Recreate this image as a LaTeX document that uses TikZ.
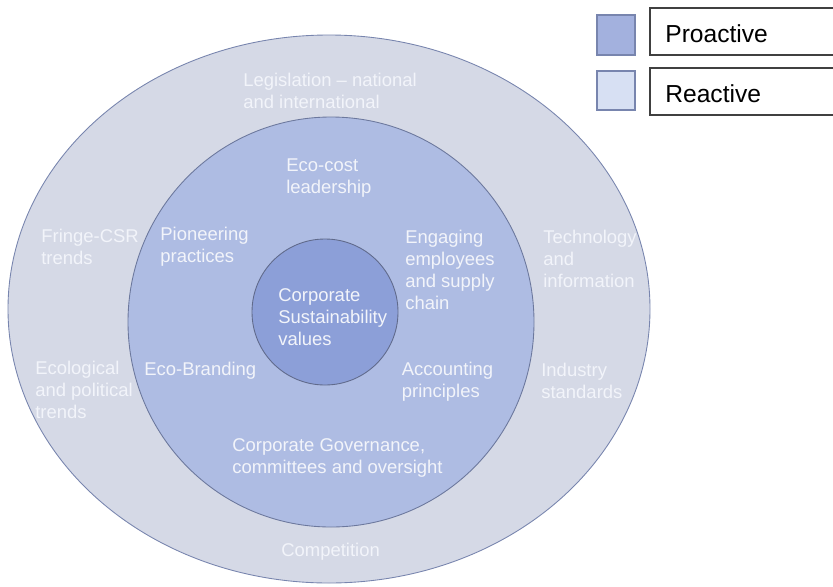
\documentclass[tikz,border=0pt]{standalone}
\usepackage{fontspec}
\setmainfont{Liberation Sans}
\usepackage{xcolor}
\usetikzlibrary{positioning,calc}

\definecolor{outerring}{HTML}{D5D9E6}
\definecolor{middlering}{HTML}{AEBCE3}
\definecolor{innerring}{HTML}{8C9FD8}
\definecolor{ringline}{HTML}{7885AE}
\definecolor{proactive}{HTML}{A3B1DE}
\definecolor{reactive}{HTML}{D7E0F3}
\definecolor{labeltext}{HTML}{F2F4FA}

% base of a multi-line label is its last line
\tikzset{
    ringlabel/.style={anchor=base west, align=left, inner sep=0pt, text=labeltext,
        font=\fontsize{10.5}{12.5}\selectfont},
    keybox/.style={draw=black!75, line width=0.7pt, fill=white},
    keysquare/.style={draw=ringline, line width=0.6pt},
    keytext/.style={anchor=base west, inner sep=0pt, font=\fontsize{14}{16}\selectfont}
}

\begin{document}
\begin{tikzpicture}
    \useasboundingbox (0,0) rectangle (16.66,-11.72);

    % Rings
    \draw[fill=outerring, draw=ringline, line width=0.5pt] (6.58,-6.18) ellipse (6.42 and 5.48);
    \draw[fill=middlering, draw=ringline!90!black, line width=0.5pt] (6.62,-6.44) ellipse (4.06 and 4.10);
    \draw[fill=innerring, draw=ringline!80!black, line width=0.5pt] (6.50,-6.24) circle (1.46);

    % Outer ring (reactive)
    \node[ringlabel] (legis) at (4.86,-2.17) {Legislation -- national\\and international};
    \node[ringlabel] (fringe) at (0.82,-5.29) {Fringe-CSR\\trends};
    \node[ringlabel] (techno) at (10.86,-5.75) {Technology\\and\\information};
    \node[ringlabel] (ecopol) at (0.70,-8.37) {Ecological\\and political\\trends};
    \node[ringlabel] (industry) at (10.82,-7.97) {Industry\\standards};
    \node[ringlabel] (compet) at (5.62,-11.13) {Competition};

    % Middle ring (proactive)
    \node[ringlabel] (ecocost) at (5.72,-3.87) {Eco-cost\\leadership};
    \node[ringlabel] (pioneer) at (3.20,-5.25) {Pioneering\\practices};
    \node[ringlabel] (engage) at (8.10,-6.19) {Engaging\\employees\\and supply\\chain};
    \node[ringlabel] (ecobrand) at (2.88,-7.51) {Eco-Branding};
    \node[ringlabel] (account) at (8.03,-7.95) {Accounting\\principles};
    \node[ringlabel] (govern) at (4.64,-9.47) {Corporate Governance,\\committees and oversight};

    % Core
    \node[ringlabel] (core) at (5.56,-6.91) {Corporate\\Sustainability\\values};

    % Legend
    \draw[keysquare, fill=proactive] (11.94,-0.30) rectangle (12.70,-1.10);
    \draw[keysquare, fill=reactive] (11.94,-1.42) rectangle (12.70,-2.20);
    \draw[keybox] (13.00,-0.16) rectangle (16.75,-1.10);
    \draw[keybox] (13.00,-1.36) rectangle (16.75,-2.30);
    \node[keytext] (keypro) at (13.30,-0.84) {Proactive};
    \node[keytext] (keyre) at (13.30,-2.04) {Reactive};
\end{tikzpicture}
\end{document}
